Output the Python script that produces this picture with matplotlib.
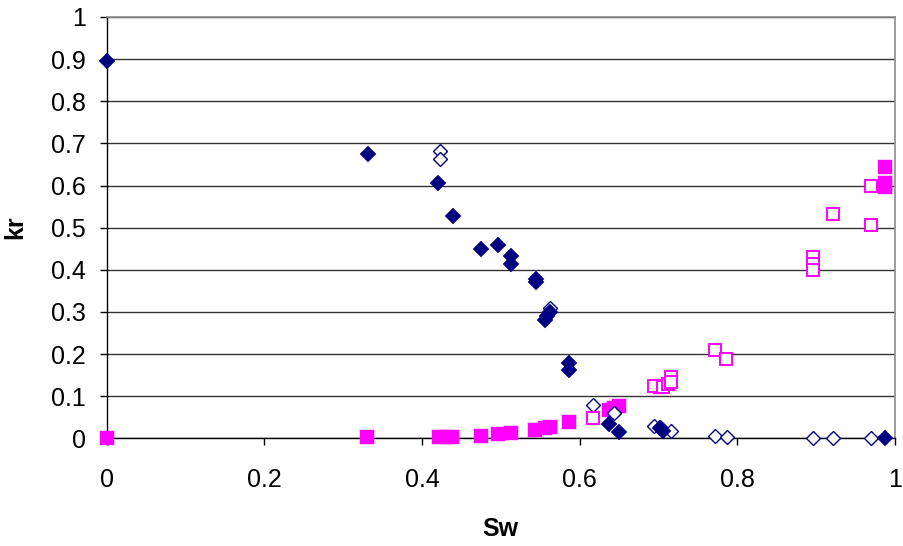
#!/usr/bin/env python3

import matplotlib
matplotlib.use("Agg")
import matplotlib.pyplot as plt

# relative permeability measurements, kr against water saturation Sw
# filled diamonds: oil kr, first set
oil_sw = [0.0, 0.332, 0.420, 0.439, 0.475, 0.497, 0.513, 0.513, 0.544, 0.544,
          0.558, 0.562, 0.556, 0.586, 0.586, 0.637, 0.650, 0.702, 0.706, 0.987]
oil_kr = [0.895, 0.675, 0.607, 0.527, 0.450, 0.458, 0.432, 0.415, 0.378, 0.372,
          0.290, 0.300, 0.282, 0.178, 0.163, 0.035, 0.015, 0.025, 0.018, 0.0]

# open diamonds: oil kr, second set
oil2_sw = [0.423, 0.423, 0.562, 0.617, 0.643, 0.694, 0.702, 0.716, 0.772, 0.787,
           0.896, 0.922, 0.969]
oil2_kr = [0.682, 0.663, 0.310, 0.080, 0.060, 0.030, 0.026, 0.018, 0.006, 0.004,
           0.0, 0.0, 0.0]

# filled squares: water kr, first set
wat_sw = [0.0, 0.330, 0.421, 0.430, 0.438, 0.475, 0.497, 0.513, 0.543, 0.556,
          0.562, 0.586, 0.637, 0.643, 0.650, 0.702, 0.987, 0.987, 0.987]
wat_kr = [0.0, 0.003, 0.003, 0.003, 0.003, 0.006, 0.010, 0.014, 0.021, 0.025,
          0.028, 0.040, 0.068, 0.072, 0.076, 0.122, 0.644, 0.606, 0.596]

# open squares: water kr, second set
wat2_sw = [0.617, 0.694, 0.706, 0.712, 0.716, 0.716, 0.772, 0.786, 0.896, 0.896,
           0.896, 0.922, 0.969, 0.969]
wat2_kr = [0.048, 0.125, 0.122, 0.128, 0.145, 0.135, 0.210, 0.188, 0.430, 0.415,
           0.400, 0.533, 0.598, 0.507]

x_ticks = [0, 0.2, 0.4, 0.6, 0.8, 1]
x_labels = ["0", "0.2", "0.4", "0.6", "0.8", "1"]
y_ticks = [0, 0.1, 0.2, 0.3, 0.4, 0.5, 0.6, 0.7, 0.8, 0.9, 1]
y_labels = ["0", "0.1", "0.2", "0.3", "0.4", "0.5", "0.6", "0.7", "0.8", "0.9", "1"]

navy = "#000080"
magenta = "#FF00FF"

plt.rcParams['font.family'] = ['Liberation Sans', 'DejaVu Sans']

fig = plt.figure(figsize=(9.04, 5.46), dpi=100)
ax = fig.add_axes([0.118, 0.197, 0.872, 0.772])

ax.plot(wat_sw, wat_kr, ls='none', marker='s', ms=10.2, mfc=magenta, mec=magenta,
        mew=0.3, zorder=3, clip_on=False)
ax.plot(oil2_sw, oil2_kr, ls='none', marker='D', ms=7.4, mfc='white', mec=navy,
        mew=1.0, zorder=4, clip_on=False)
ax.plot(oil_sw, oil_kr, ls='none', marker='D', ms=7.8, mfc=navy, mec=navy,
        mew=0.3, zorder=5, clip_on=False)
ax.plot(wat2_sw, wat2_kr, ls='none', marker='s', ms=8.4, mfc='white', mec=magenta,
        mew=1.4, zorder=6, clip_on=False)

ax.set_xlim(0, 1)
ax.set_ylim(0, 1)
ax.set_xticks(x_ticks)
ax.set_xticklabels(x_labels)
ax.set_yticks(y_ticks)
ax.set_yticklabels(y_labels)

ax.yaxis.grid(True, color='#333333', lw=1.0)
ax.set_axisbelow(True)
ax.tick_params(axis='both', direction='out', length=5, width=1, color='black',
               labelsize=18)
ax.tick_params(axis='x', pad=16)
ax.tick_params(axis='y', pad=10)

for side in ['left', 'bottom']:
    ax.spines[side].set_color('black')
    ax.spines[side].set_linewidth(1)
for side in ['right', 'top']:
    ax.spines[side].set_color('#8c8c8c')
    ax.spines[side].set_linewidth(1.2)
for sp in ax.spines.values():
    sp.set_zorder(2)

ax.set_xlabel("Sw", fontsize=18, fontweight='bold', labelpad=18)
ax.set_ylabel("kr", fontsize=18, fontweight='bold', labelpad=17)

fig.savefig("out.png", dpi=100)
